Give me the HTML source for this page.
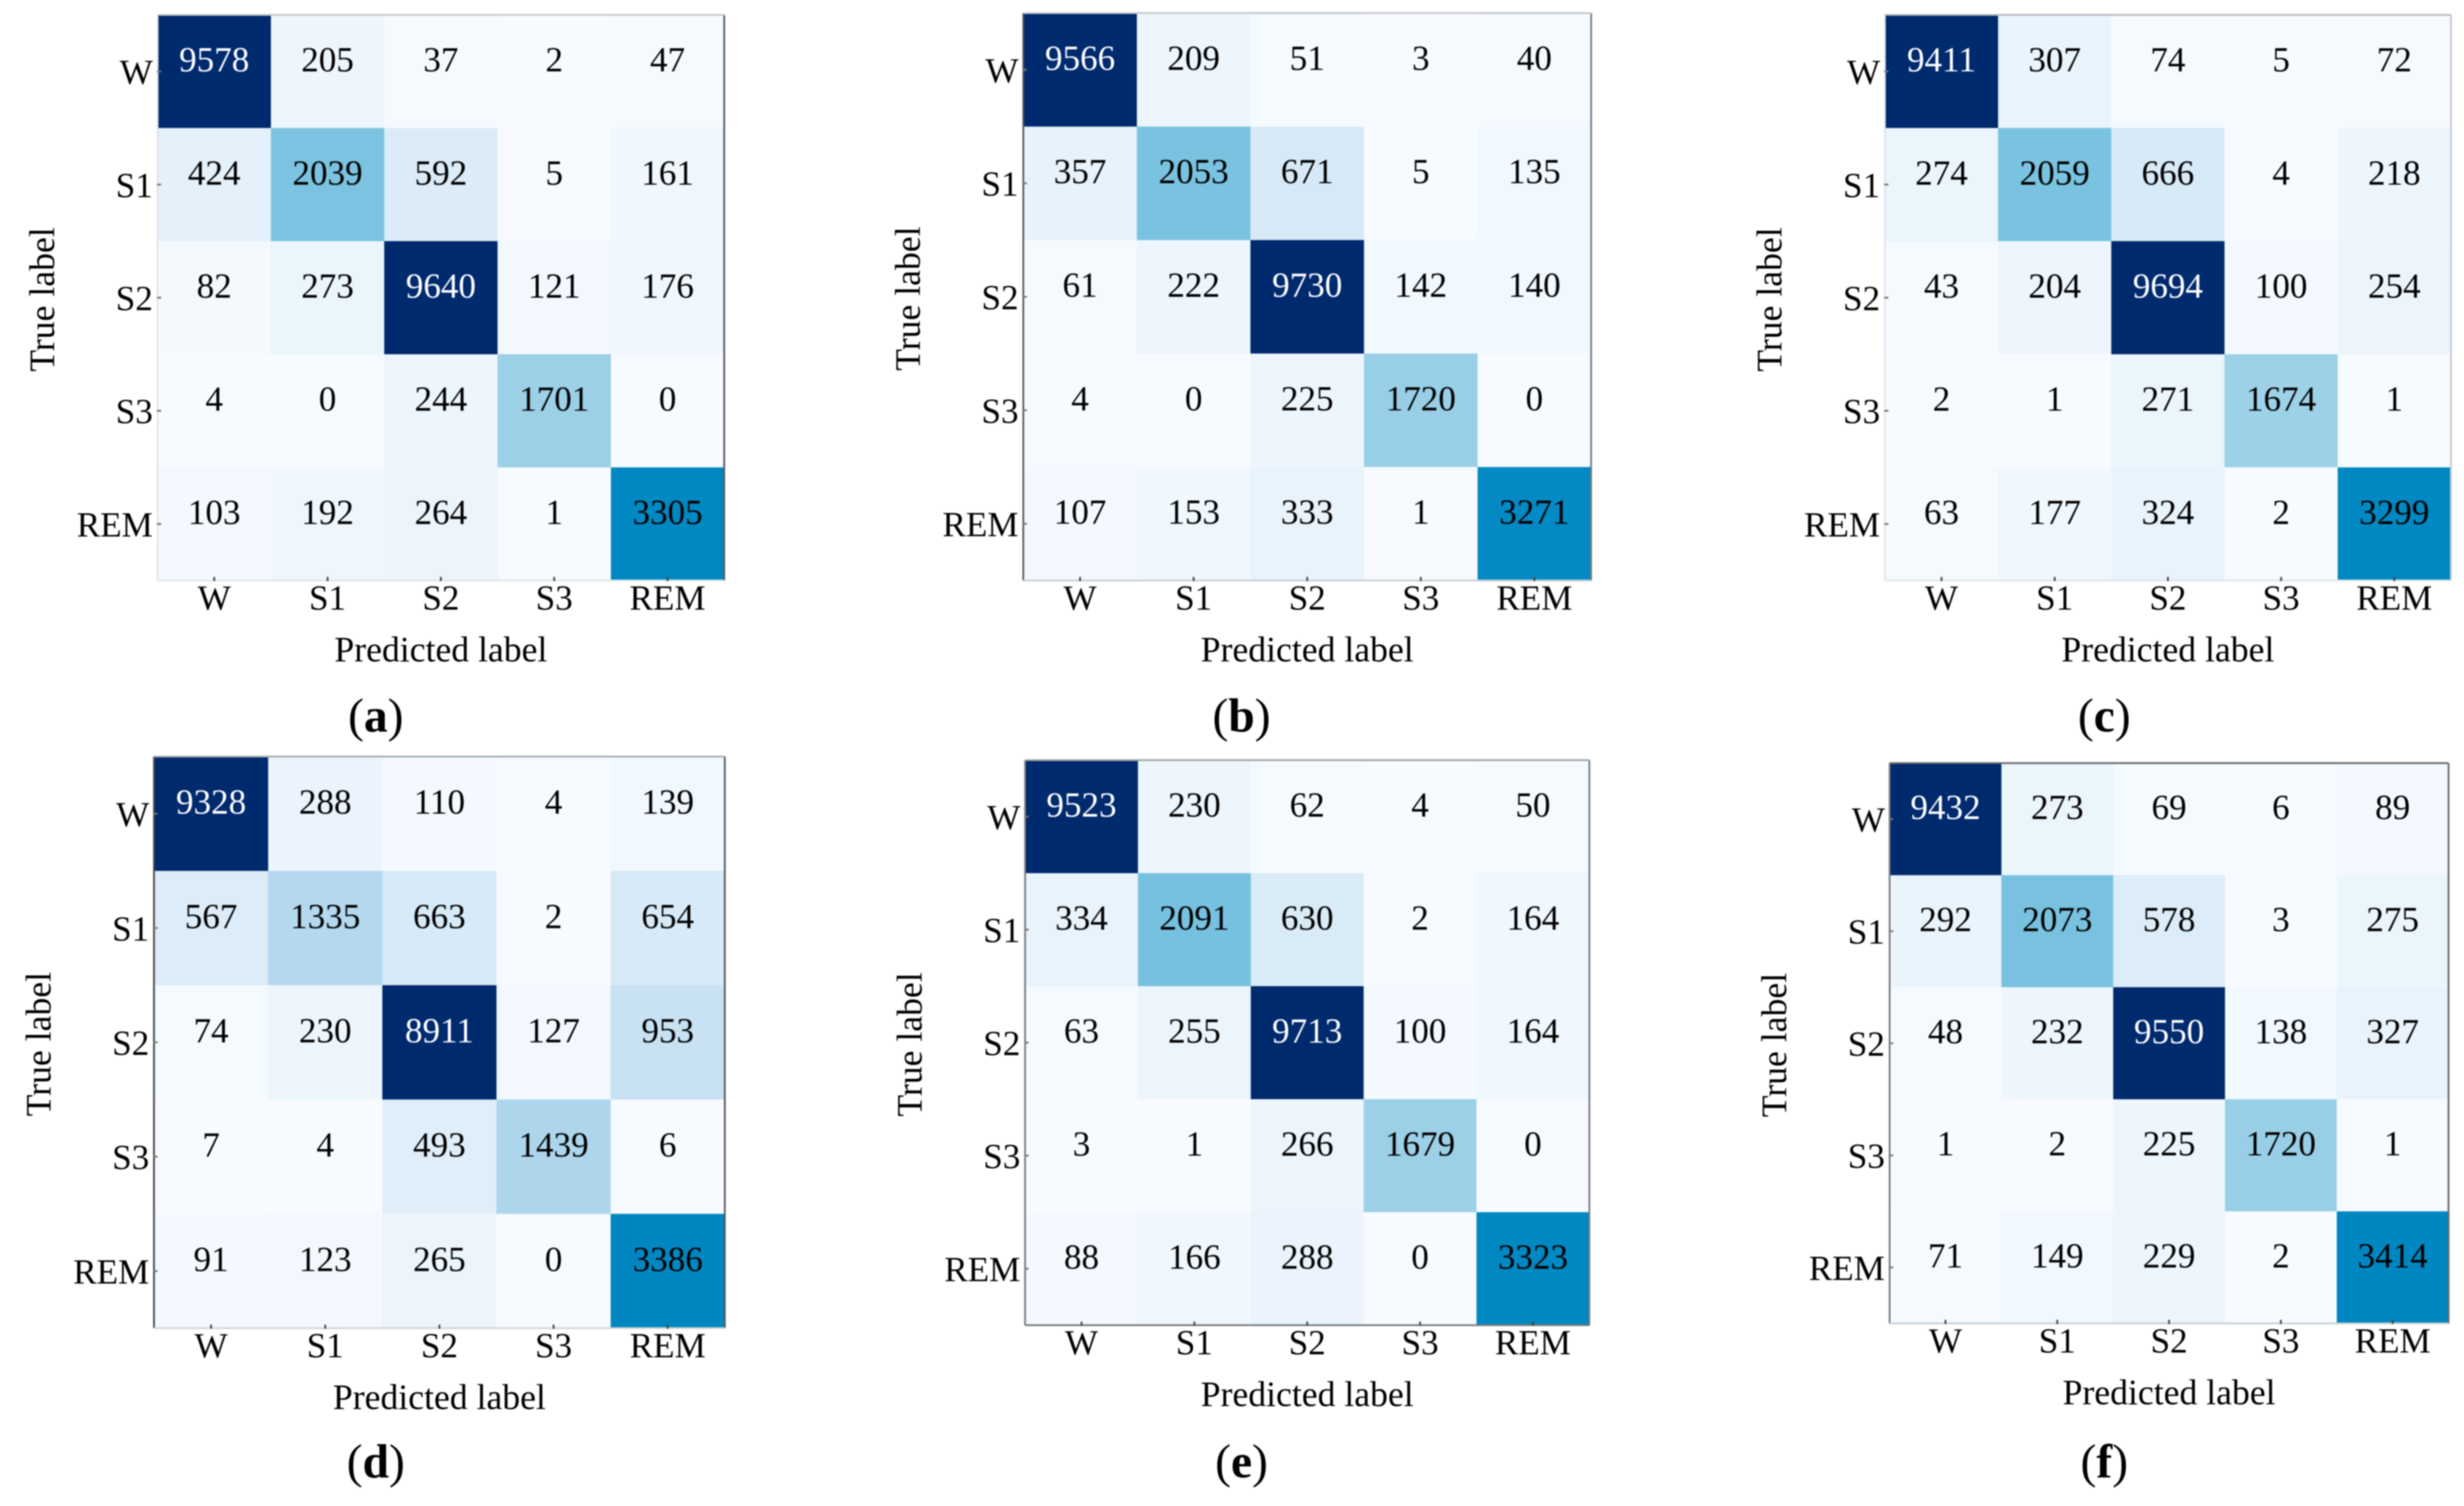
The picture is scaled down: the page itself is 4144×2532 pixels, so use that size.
<!DOCTYPE html>
<html lang="en">
<head>
<meta charset="utf-8">
<title>Confusion matrices (a) to (f)</title>
<style>
  html, body { margin: 0; padding: 0; background: #ffffff; }
  #figure { display: block; width: 4144px; height: 2532px; filter: blur(1px); }
  text { font-family: "Liberation Serif", "Times New Roman", serif; fill: #000000; }
</style>
</head>
<body>
<svg id="figure" xmlns="http://www.w3.org/2000/svg" width="4144" height="2532" viewBox="0 0 4144 2532"></svg>
<script>
const categories = ['W', 'S1', 'S2', 'S3', 'REM'];
const panelLetters = ['a', 'b', 'c', 'd', 'e', 'f'];

const matrixA = [
  [9578, 205, 37, 2, 47],
  [424, 2039, 592, 5, 161],
  [82, 273, 9640, 121, 176],
  [4, 0, 244, 1701, 0],
  [103, 192, 264, 1, 3305]
];
const matrixB = [
  [9566, 209, 51, 3, 40],
  [357, 2053, 671, 5, 135],
  [61, 222, 9730, 142, 140],
  [4, 0, 225, 1720, 0],
  [107, 153, 333, 1, 3271]
];
const matrixC = [
  [9411, 307, 74, 5, 72],
  [274, 2059, 666, 4, 218],
  [43, 204, 9694, 100, 254],
  [2, 1, 271, 1674, 1],
  [63, 177, 324, 2, 3299]
];
const matrixD = [
  [9328, 288, 110, 4, 139],
  [567, 1335, 663, 2, 654],
  [74, 230, 8911, 127, 953],
  [7, 4, 493, 1439, 6],
  [91, 123, 265, 0, 3386]
];
const matrixE = [
  [9523, 230, 62, 4, 50],
  [334, 2091, 630, 2, 164],
  [63, 255, 9713, 100, 164],
  [3, 1, 266, 1679, 0],
  [88, 166, 288, 0, 3323]
];
const matrixF = [
  [9432, 273, 69, 6, 89],
  [292, 2073, 578, 3, 275],
  [48, 232, 9550, 138, 327],
  [1, 2, 225, 1720, 1],
  [71, 149, 229, 2, 3414]
];
const matrices = [matrixA, matrixB, matrixC, matrixD, matrixE, matrixF];

/* Layout (frame rectangles, spine tints) is separate from the data above. */
const frames = [
  { left: 265,  right: 1218, top: 25,   bottom: 976,  cap: 632,  capY: 1230, spineL: '#dfe6ec', spineR: '#55595e', spineT: '#c4c8cc', spineB: '#dfe6ec' },
  { left: 1721, right: 2676, top: 22,   bottom: 976,  cap: 2088, capY: 1230, spineL: '#55595e', spineR: '#777b80', spineT: '#c4c8cc', spineB: '#c8d0d6' },
  { left: 3170, right: 4122, top: 25,   bottom: 976,  cap: 3539, capY: 1230, spineL: '#dfe6ec', spineR: '#c4cad0', spineT: '#b8bcc0', spineB: '#dfe6ec' },
  { left: 259,  right: 1219, top: 1272, bottom: 2233, cap: 632,  capY: 2484, spineL: '#44484c', spineR: '#55595e', spineT: '#a8acb0', spineB: '#d0d6dc' },
  { left: 1724, right: 2673, top: 1278, bottom: 2228, cap: 2088, capY: 2484, spineL: '#777b80', spineR: '#777b80', spineT: '#a0a4a8', spineB: '#777b80' },
  { left: 3178, right: 4118, top: 1283, bottom: 2225, cap: 3539, capY: 2484, spineL: '#777b80', spineR: '#66696e', spineT: '#66696e', spineB: '#c8d0d6' }
];

const colorStops = [
  [0, '#f7fbff'], [100, '#f3f9fe'], [300, '#eaf4fc'], [650, '#d8eaf7'], [950, '#c8e2f3'],
  [1335, '#b4d8ee'], [1700, '#9bd0e6'], [2050, '#7ac3e0'], [3300, '#0088c2'], [8900, '#002a6e'], [10000, '#002a6e']
];
const whiteTextThreshold = 4800;

const SVG_NS = 'http://www.w3.org/2000/svg';
const root = document.getElementById('figure');

function hexToRgb(hex) {
  return [1, 3, 5].map(function (i) { return parseInt(hex.substr(i, 2), 16); });
}
function colorFor(value) {
  for (let i = 1; i < colorStops.length; i++) {
    if (value <= colorStops[i][0]) {
      const t = (value - colorStops[i - 1][0]) / (colorStops[i][0] - colorStops[i - 1][0]);
      const a = hexToRgb(colorStops[i - 1][1]);
      const b = hexToRgb(colorStops[i][1]);
      return 'rgb(' + a.map(function (c, k) { return Math.round(c + (b[k] - c) * t); }).join(',') + ')';
    }
  }
  return colorStops[colorStops.length - 1][1];
}
function make(tag, attrs, parent) {
  const el = document.createElementNS(SVG_NS, tag);
  Object.keys(attrs).forEach(function (k) { el.setAttribute(k, attrs[k]); });
  parent.appendChild(el);
  return el;
}
function xScale(f, col) { return f.left + (f.right - f.left) * col / categories.length; }
function yScale(f, row) { return f.top + (f.bottom - f.top) * row / categories.length; }

matrices.forEach(function (matrix, p) {
  const f = frames[p];
  const letter = panelLetters[p];

  const g = make('g', {}, root);
  
  

  matrix.forEach(function (rowValues, r) {
    rowValues.forEach(function (value, c) {
      const x0 = xScale(f, c), x1 = xScale(f, c + 1), y0 = yScale(f, r), y1 = yScale(f, r + 1);
      const cell = make('rect', { x: x0, y: y0, width: x1 - x0 + 0.5, height: y1 - y0 + 0.5, fill: colorFor(value) }, g);
      
      
    });
  });

  matrix.forEach(function (rowValues, r) {
    rowValues.forEach(function (value, c) {
      const label = make('text', {
        x: (xScale(f, c) + xScale(f, c + 1)) / 2,
        y: (yScale(f, r) + yScale(f, r + 1)) / 2,
        'text-anchor': 'middle',
        'font-size': 59
      }, g);
      label.style.fill = value > whiteTextThreshold ? '#ffffff' : '#000000';
      label.textContent = String(value);
      
      
    });
  });

  const spines = [
    [f.left, f.top, f.left, f.bottom, f.spineL, 'left'],
    [f.right, f.top, f.right, f.bottom, f.spineR, 'right'],
    [f.left, f.top, f.right, f.top, f.spineT, 'top'],
    [f.left, f.bottom, f.right, f.bottom, f.spineB, 'bottom']
  ];
  spines.forEach(function (s) {
    const line = make('line', { x1: s[0], y1: s[1], x2: s[2], y2: s[3], stroke: s[4], 'stroke-width': 3 }, g);
    
    
  });

  categories.forEach(function (cat, i) {
    const cx = (xScale(f, i) + xScale(f, i + 1)) / 2;
    const cy = (yScale(f, i) + yScale(f, i + 1)) / 2;

    const xTick = make('line', { x1: cx, y1: f.bottom - 6, x2: cx, y2: f.bottom + 1, stroke: '#444444', 'stroke-width': 3 }, g);
    
    

    const yTick = make('line', { x1: f.left - 1, y1: cy, x2: f.left + 6, y2: cy, stroke: '#777777', 'stroke-width': 3 }, g);
    
    

    const xLabel = make('text', { x: cx, y: f.bottom + 49, 'text-anchor': 'middle', 'font-size': 59 }, g);
    xLabel.textContent = cat;
    
    

    const yLabel = make('text', { x: f.left - 8, y: cy + 21, 'text-anchor': 'end', 'font-size': 59 }, g);
    yLabel.textContent = cat;
    
    
  });

  const midX = (f.left + f.right) / 2;
  const midY = (f.top + f.bottom) / 2;

  const xTitle = make('text', { x: midX, y: f.bottom + 136, 'text-anchor': 'middle', 'font-size': 60 }, g);
  xTitle.textContent = 'Predicted label';
  
  

  const yTitle = make('text', {
    x: f.left - 174, y: midY + 3, 'text-anchor': 'middle', 'font-size': 60,
    transform: 'rotate(-90 ' + (f.left - 174) + ' ' + (midY + 3) + ')'
  }, g);
  yTitle.textContent = 'True label';
  
  

  const caption = make('text', { x: f.cap, y: f.capY, 'text-anchor': 'middle', 'font-size': 80 }, g);
  
  
  caption.appendChild(document.createTextNode('('));
  const bold = make('tspan', { 'font-weight': 'bold' }, caption);
  bold.textContent = letter;
  caption.appendChild(document.createTextNode(')'));
});
</script>
</body>
</html>
